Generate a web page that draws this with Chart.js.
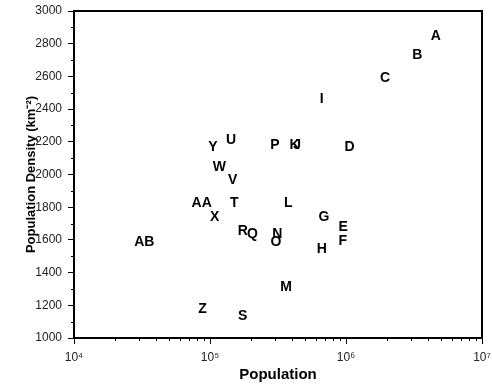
<!DOCTYPE html>
<html>
<head>
<meta charset="utf-8">
<script src="https://cdn.jsdelivr.net/npm/chart.js@4.4.1/dist/chart.umd.min.js"></script>
<style>
html,body{margin:0;padding:0;background:#fff;}
#wrap{width:492px;height:385px;}
</style>
</head>
<body>
<div id="wrap"><canvas id="c" width="492" height="385"></canvas></div>
<script>
// ---- data ----
const siteLabels = ['A','B','C','D','E','F','G','H','I','J','K','L','M','N','O','P','Q','R','S','T','U','V','W','X','Y','Z','AA','AB'];
const population = [4.57e6,3.34e6,1.94e6,1.06e6,9.55e5,9.46e5,6.89e5,6.63e5,6.63e5,4.37e5,4.18e5,3.77e5,3.62e5,3.13e5,3.06e5,3.0e5,2.05e5,1.74e5,1.74e5,1.51e5,1.43e5,1.47e5,1.17e5,1.08e5,1.05e5,8.83e4,8.69e4,3.29e4];
const density    = [2849,2727,2592,2167,1676,1595,1737,1546,2462,2181,2181,1825,1309,1636,1587,2181,1637,1651,1136,1825,2212,1967,2043,1737,2167,1177,1825,1587];
const xTickValues = [1e4,1e5,1e6,1e7];
const xTickLabels = ['10⁴','10⁵','10⁶','10⁷'];
const yTickValues = [1000,1200,1400,1600,1800,2000,2200,2400,2600,2800,3000];
const yTickLabels = ['1000','1200','1400','1600','1800','2000','2200','2400','2600','2800','3000'];
const yMinorValues = [1100,1300,1500,1700,1900,2100,2300,2500,2700,2900];
const xMinorMultipliers = [2,3,4,5,6,7,8,9];

const FONT = '"Liberation Sans", Arial, Helvetica, sans-serif';

const labelPlugin = {
  id: 'pointLabels',
  afterDatasetsDraw(chart) {
    const ctx = chart.ctx;
    const meta = chart.getDatasetMeta(0);
    ctx.save();
    ctx.font = 'bold 14px ' + FONT;
    ctx.fillStyle = '#000';
    ctx.textAlign = 'center';
    ctx.textBaseline = 'middle';
    meta.data.forEach((pt, i) => ctx.fillText(siteLabels[i], pt.x, pt.y));
    ctx.restore();
  }
};

const framePlugin = {
  id: 'frame',
  afterDraw(chart) {
    const {ctx, chartArea: a, scales: {x, y}} = chart;
    ctx.save();
    ctx.strokeStyle = '#000';
    ctx.lineWidth = 2;
    ctx.beginPath();
    ctx.moveTo(a.left - 1, a.top);
    ctx.lineTo(a.right, a.top);
    ctx.lineTo(a.right, a.bottom + 1);
    ctx.stroke();
    ctx.lineWidth = 1;
    ctx.beginPath();
    yMinorValues.forEach(v => {
      const py = Math.round(y.getPixelForValue(v)) + 0.5;
      ctx.moveTo(a.left - 3, py); ctx.lineTo(a.left, py);
    });
    for (let i = 0; i < xTickValues.length - 1; i++) {
      xMinorMultipliers.forEach(m => {
        const px = Math.round(x.getPixelForValue(m * xTickValues[i])) + 0.5;
        ctx.moveTo(px, a.bottom); ctx.lineTo(px, a.bottom + 3);
      });
    }
    ctx.stroke();
    ctx.restore();
  }
};

new Chart(document.getElementById('c'), {
  type: 'scatter',
  data: {
    datasets: [{
      data: population.map((p, i) => ({x: p, y: density[i]})),
      pointRadius: 0,
      pointHoverRadius: 0,
      showLine: false
    }]
  },
  options: {
    responsive: false,
    animation: false,
    events: [],
    layout: {padding: {top: 11, right: 10, left: 0, bottom: 0}},
    plugins: {legend: {display: false}, tooltip: {enabled: false}},
    scales: {
      x: {
        type: 'logarithmic',
        min: 1e4, max: 1e7,
        afterBuildTicks(s) { s.ticks = xTickValues.map(v => ({value: v})); },
        afterFit(s) { s.height = 47; s.paddingLeft = 0; s.paddingRight = 0; },
        ticks: {
          callback: (v, i) => xTickLabels[i],
          font: {size: 12, family: FONT},
          color: '#222',
          padding: 6,
          maxRotation: 0,
          autoSkip: false
        },
        grid: {drawOnChartArea: false, tickLength: 6, color: '#000', lineWidth: 1},
        border: {color: '#000', width: 2},
        title: {display: true, text: 'Population', color: '#000',
          font: {size: 15, weight: 'bold', family: FONT}, padding: {top: 0, bottom: 1}}
      },
      y: {
        type: 'linear',
        min: 1000, max: 3000,
        afterBuildTicks(s) { s.ticks = yTickValues.map(v => ({value: v})); },
        afterFit(s) { s.width = 74; s.paddingTop = 0; s.paddingBottom = 0; },
        ticks: {
          callback: (v, i) => yTickLabels[i],
          font: {size: 12, family: FONT},
          color: '#222',
          padding: 6
        },
        grid: {drawOnChartArea: false, tickLength: 6, color: '#000', lineWidth: 1},
        border: {color: '#000', width: 2},
        title: {display: true, text: 'Population Density (km⁻²)', color: '#000',
          font: {size: 13, weight: 'bold', family: FONT}, padding: {top: 24, bottom: 0}}
      }
    }
  },
  plugins: [labelPlugin, framePlugin]
});
</script>
</body>
</html>
